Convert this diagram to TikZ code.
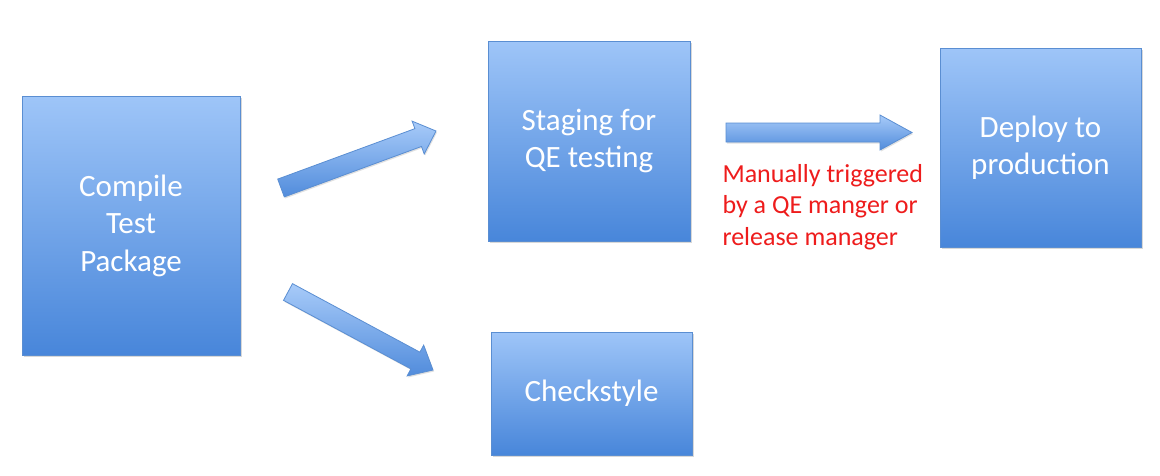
\documentclass[tikz,border=0pt]{standalone}
\usepackage{fontspec}
\setmainfont{Carlito}
\usetikzlibrary{calc,shadows}
\definecolor{boxtop}{HTML}{9EC5F8}
\definecolor{boxbot}{HTML}{4886DA}
\definecolor{boxedge}{HTML}{5A8ED2}
\definecolor{notered}{HTML}{EE1C1C}
\tikzset{
  box/.style={rectangle, draw=boxedge, line width=0.8pt, top color=boxtop, bottom color=boxbot,
    text=white, align=center, font=\fontsize{31}{37.5}\selectfont,
    drop shadow={shadow xshift=1.5pt, shadow yshift=-2pt, opacity=0.25, fill=black!60}},
  barrow/.style={draw=boxedge, line width=0.8pt, top color=boxtop!90!white, bottom color=boxbot!95!white,
    drop shadow={shadow xshift=1pt, shadow yshift=-1.5pt, opacity=0.2, fill=black!60}},
  note/.style={text=notered, align=left, font=\fontsize{26}{31.5}\selectfont}
}
% block arrow from tail #1 to tip #2, head length #3
\newcommand\blockarrow[3]{%
  \coordinate (#1#2b) at ($(#2)!#3!(#1)$);
  \path[barrow] ($(#1)!9.5pt!90:(#2)$) -- ($(#1#2b)!9.5pt!90:(#2)$) -- ($(#1#2b)!17.5pt!90:(#2)$)
    -- (#2) -- ($(#1#2b)!17.5pt!-90:(#2)$) -- ($(#1#2b)!9.5pt!-90:(#2)$) -- ($(#1)!9.5pt!-90:(#2)$) -- cycle;
}
\begin{document}
\begin{tikzpicture}[x=1pt,y=-1pt]
\useasboundingbox[fill=white] (0,0) rectangle (1160,475);

\node[box, minimum width=218pt, minimum height=259pt] (compile) at (131,225.5) {Compile\\Test\\Package};
\node[box, minimum width=202pt, minimum height=200pt] (staging) at (589,141) {Staging for\\QE testing};
\node[box, minimum width=201pt, minimum height=199pt] (deploy) at (1040.5,147.5) {Deploy to\\production};
\node[box, minimum width=201pt, minimum height=123pt] (check) at (591.5,393.5) {Checkstyle};

\coordinate (a1s) at (281,188);
\coordinate (a1e) at (436,131);
\coordinate (a2s) at (288,292);
\coordinate (a2e) at (433,370);
\coordinate (a3s) at (726,132.5);
\coordinate (a3e) at (912,132.5);
\blockarrow{a1s}{a1e}{19pt}
\blockarrow{a2s}{a2e}{20pt}
\blockarrow{a3s}{a3e}{32pt}

\node[note, anchor=west] (note) at (719,207) {Manually triggered\\by a QE manger or\\release manager};
\end{tikzpicture}
\end{document}
